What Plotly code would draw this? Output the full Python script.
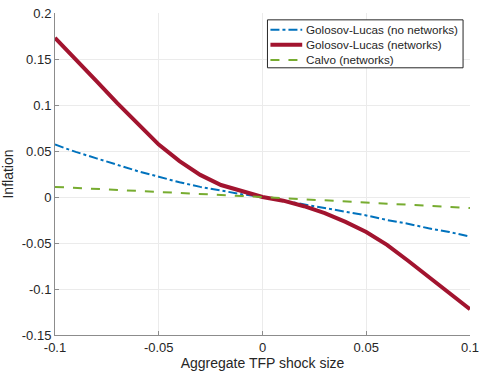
import plotly.graph_objects as go

shock = [-0.10, -0.09, -0.08, -0.07, -0.06, -0.05, -0.04, -0.03, -0.02, -0.01, 0.00,
         0.01, 0.02, 0.03, 0.04, 0.05, 0.06, 0.07, 0.08, 0.09, 0.10]
gl_no_net = [0.057, 0.049, 0.042, 0.035, 0.028, 0.022, 0.016, 0.011, 0.007, 0.003, 0.0,
             -0.004, -0.008, -0.012, -0.016, -0.020, -0.025, -0.029, -0.034, -0.038, -0.043]
gl_net = [0.173, 0.150, 0.126, 0.102, 0.079, 0.057, 0.039, 0.024, 0.013, 0.006, 0.0,
          -0.004, -0.010, -0.0175, -0.027, -0.038, -0.052, -0.069, -0.087, -0.105, -0.122]
calvo_net = [0.011, 0.010, 0.009, 0.008, 0.007, 0.0055, 0.0045, 0.0033, 0.0022, 0.0011, 0.0,
             -0.0011, -0.0023, -0.0035, -0.0047, -0.006, -0.0072, -0.0084, -0.0096, -0.0108, -0.012]

series_names = ["Golosov-Lucas (no networks)", "Golosov-Lucas (networks)", "Calvo (networks)"]

x_ticks = [-0.1, -0.05, 0, 0.05, 0.1]
x_tick_labels = ["-0.1", "-0.05", "0", "0.05", "0.1"]
y_ticks = [-0.15, -0.1, -0.05, 0, 0.05, 0.1, 0.15, 0.2]
y_tick_labels = ["-0.15", "-0.1", "-0.05", "0", "0.05", "0.1", "0.15", "0.2"]

font = "Liberation Sans, Arial, Helvetica, sans-serif"
W, H = 485, 376
ML, MR, MT, MB = 55, 12, 6, 41
PW, PH = W - ML - MR, H - MT - MB

styles = [dict(color="#0072BD", width=2, dash="dashdot"),
          dict(color="#A2142F", width=4),
          dict(color="#77AC30", width=2, dash="dash")]
series = [gl_no_net, gl_net, calvo_net]

fig = go.Figure()
for name, ys, st in zip(series_names, series, styles):
    fig.add_trace(go.Scatter(x=shock, y=ys, mode="lines", name=name,
                             line=st, showlegend=False))

axis_common = dict(showline=True, linecolor="#8c8c8c", linewidth=1,
                   showgrid=True, gridcolor="#ebebeb", gridwidth=1,
                   ticks="inside", ticklen=4, tickcolor="#8c8c8c",
                   zeroline=False, mirror=False, ticklabeloverflow="allow",
                   tickfont=dict(family=font, size=13, color="#262626"))

fig.update_xaxes(range=[-0.1, 0.1], tickvals=x_ticks, ticktext=x_tick_labels,
                 title=dict(text="Aggregate TFP shock size",
                            font=dict(family=font, size=14, color="#262626"),
                            standoff=4),
                 **axis_common)
fig.update_yaxes(range=[-0.15, 0.2], tickvals=y_ticks, ticktext=y_tick_labels,
                 title=dict(text="Inflation",
                            font=dict(family=font, size=14, color="#262626"),
                            standoff=6),
                 **axis_common)

# custom legend (compact, MATLAB-like)
def px_x(p):
    return (p - ML) / PW

def px_y(p):
    return (H - MB - p) / PH

box = dict(x0=269, x1=466, y0=13, y1=62)
fig.add_shape(type="rect", xref="paper", yref="paper",
              x0=px_x(box["x0"]), x1=px_x(box["x1"]),
              y0=px_y(box["y1"]), y1=px_y(box["y0"]),
              line=dict(color="#262626", width=1), fillcolor="white", layer="above")
row_y = [23, 38.5, 54]
for name, st, ry in zip(series_names, styles, row_y):
    fig.add_shape(type="line", xref="paper", yref="paper",
                  x0=px_x(272), x1=px_x(304), y0=px_y(ry), y1=px_y(ry),
                  line=st, layer="above")
    fig.add_annotation(xref="paper", yref="paper", x=px_x(306), y=px_y(ry),
                       xanchor="left", yanchor="middle", showarrow=False,
                       text=name, font=dict(family=font, size=11.7, color="#262626"))

fig.update_layout(
    width=W, height=H,
    margin=dict(l=ML, r=MR, t=MT, b=MB),
    plot_bgcolor="white", paper_bgcolor="white",
    showlegend=False,
    font=dict(family=font),
)

fig.write_html("out.html")
